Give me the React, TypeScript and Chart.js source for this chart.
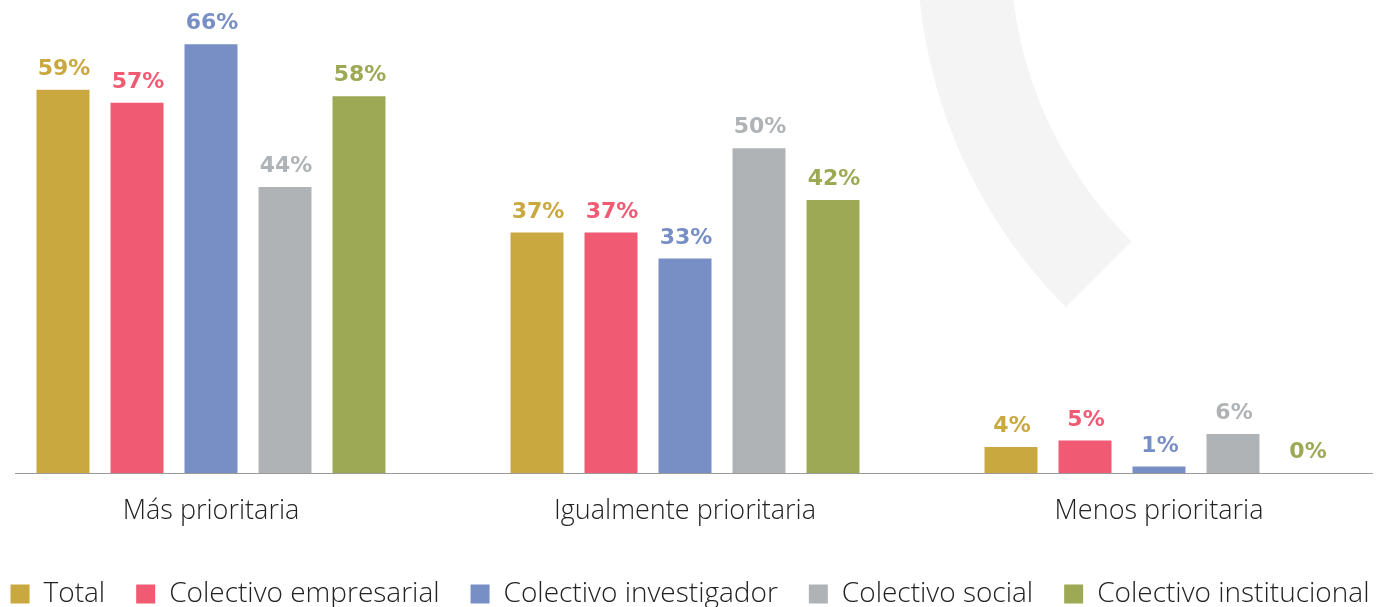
import React, { useEffect, useRef } from "react";
import { Chart, registerables } from "chart.js";

Chart.register(...registerables);

const categories = ["Más prioritaria", "Igualmente prioritaria", "Menos prioritaria"];
const seriesNames = [
  "Total",
  "Colectivo empresarial",
  "Colectivo investigador",
  "Colectivo social",
  "Colectivo institucional",
];
const totalValues = [59, 37, 4];
const empresarialValues = [57, 37, 5];
const investigadorValues = [66, 33, 1];
const socialValues = [44, 50, 6];
const institucionalValues = [58, 42, 0];
const seriesColors = ["#C9A83F", "#F05A72", "#788FC6", "#B0B3B6", "#9DA955"];

const CANVAS_LEFT = -26;
const CANVAS_W = 1422;
const CANVAS_H = 618;

const arcPlugin = {
  id: "bgArc",
  beforeDraw(chart: any) {
    const ctx = chart.ctx;
    const cx = 1425 - CANVAS_LEFT;
    const cy = -52;
    ctx.save();
    ctx.fillStyle = "#F3F4F3";
    ctx.beginPath();
    ctx.arc(cx, cy, 508, Math.PI * 0.75, Math.PI * 1.3, false);
    ctx.arc(cx, cy, 415, Math.PI * 1.3, Math.PI * 0.75, true);
    ctx.closePath();
    ctx.fill();
    ctx.restore();
  },
};

const legendShiftPlugin = {
  id: "legendShift",
  afterLayout(chart: any) {
    const lg = chart.legend;
    if (lg) {
      lg.left += 5;
      lg.right += 5;
    }
  },
};

const baselinePlugin = {
  id: "baseline",
  afterDatasetsDraw(chart: any) {
    const ctx = chart.ctx;
    const y = chart.scales.y.getPixelForValue(0);
    ctx.save();
    ctx.strokeStyle = "#9A9A9A";
    ctx.lineWidth = 1.2;
    ctx.beginPath();
    ctx.moveTo(15 - CANVAS_LEFT, y + 0.5);
    ctx.lineTo(1373 - CANVAS_LEFT, y + 0.5);
    ctx.stroke();
    ctx.restore();
  },
};

const valueLabelPlugin = {
  id: "valueLabels",
  afterDatasetsDraw(chart: any) {
    const ctx = chart.ctx;
    ctx.save();
    ctx.font = "bold 22px 'DejaVu Sans'";
    ctx.textAlign = "center";
    ctx.textBaseline = "alphabetic";
    chart.data.datasets.forEach((ds: any, di: number) => {
      const meta = chart.getDatasetMeta(di);
      meta.data.forEach((bar: any, i: number) => {
        ctx.fillStyle = ds.backgroundColor;
        ctx.fillText(`${ds.data[i]}%`, bar.x + 1, bar.y - 15);
      });
    });
    ctx.restore();
  },
};

export default function App() {
  const ref = useRef<HTMLCanvasElement>(null);
  useEffect(() => {
    if (!ref.current) return;
    const allValues = [totalValues, empresarialValues, investigadorValues, socialValues, institucionalValues];
    const chart = new Chart(ref.current, {
      type: "bar",
      data: {
        labels: categories,
        datasets: seriesNames.map((name, i) => ({
          label: name,
          data: allValues[i],
          backgroundColor: seriesColors[i],
          borderWidth: 0,
          categoryPercentage: 0.7806,
          barPercentage: 0.716,
        })),
      },
      options: {
        animation: false,
        responsive: false,
        devicePixelRatio: 1,
        layout: { padding: 0 },
        scales: {
          x: {
            grid: { display: false, drawTicks: false },
            border: { display: false },
            ticks: {
              color: "#222",
              font: { family: "Open Sans", size: 27, weight: "300" },
              padding: 22,
            },
            afterFit: (s: any) => {
              s.height = 76;
            },
          },
          y: {
            display: false,
            min: 0,
            max: 72.8,
          },
        },
        plugins: {
          tooltip: { enabled: false },
          legend: {
            position: "bottom",
            labels: {
              boxWidth: 19,
              boxHeight: 19,
              padding: 31,
              color: "#222",
              font: { family: "Open Sans", size: 28, weight: "300" },
            },
          },
        },
      },
      plugins: [arcPlugin, legendShiftPlugin, baselinePlugin, valueLabelPlugin],
    });
    return () => chart.destroy();
  }, []);
  return (
    <div
      style={{
        position: "absolute",
        left: 0,
        top: 0,
        width: 1378,
        height: 607,
        overflow: "hidden",
        background: "#fff",
      }}
    >
      <canvas
        ref={ref}
        width={CANVAS_W}
        height={CANVAS_H}
        style={{ position: "absolute", left: CANVAS_LEFT, top: 0, width: CANVAS_W, height: CANVAS_H }}
      />
    </div>
  );
}
